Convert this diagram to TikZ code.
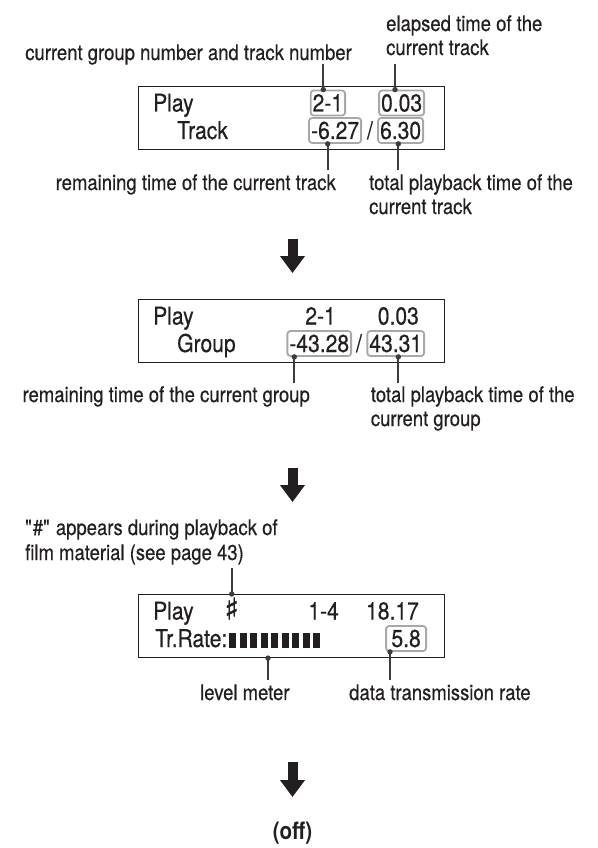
\documentclass[tikz,border=0pt]{standalone}
\usepackage{fontspec}
\setmainfont{TeX Gyre Heros}[FakeStretch=0.86, UprightFeatures={FakeBold=0.45}]
\newfontfamily\sharpfont{DejaVu Sans}[FakeBold=1.5]
\usetikzlibrary{arrows.meta,calc}

\newcommand\lblfont{\fontsize{21.5}{24}\selectfont}
\newcommand\lcdfont{\fontsize{24.5}{27}\selectfont}
\definecolor{ink}{HTML}{231F20}
\definecolor{lead}{HTML}{3C3C3C}
\definecolor{frame}{HTML}{A8A8A8}

\tikzset{
  lcd/.style={draw=ink, line width=1.1pt, minimum width=306pt, minimum height=63pt,
    anchor=north west, inner sep=0pt},
  lcdtext/.style={font=\lcdfont, text=ink, inner sep=0pt, anchor=base west},
  val/.style={font=\lcdfont, text=ink, inner xsep=2pt, inner ysep=4pt,
    text height=17pt, text depth=0pt, anchor=base east},
  valbox/.style={val, draw=frame, line width=1.8pt, rounded corners=3pt},
  lbl/.style={font=\lblfont, text=ink, inner sep=0pt, anchor=base west},
  leader/.style={draw=lead, line width=1.8pt},
  stepdown/.style={draw=ink, line width=10pt, -{Triangle[width=24pt,length=17pt]}},
}

\begin{document}
\begin{tikzpicture}[x=1pt,y=-1pt]
\useasboundingbox (0,0) rectangle (597,848);

% track display
\node[lbl] (elap1) at (386,31) {elapsed time of the};
\node[lbl] (elap2) at (386,55) {current track};
\node[lbl, anchor=base east] (grpno) at (352,60) {current group number and track number};

\node[lcd] (lcd1) at (138.3,86) {};
\node[lcdtext] (play1) at (153,111.5) {Play};
\node[lcdtext] (track) at (177,139) {Track};
\node[valbox] (v21a) at (346,111.5) {2-1};
\node[valbox] (v003a) at (425,111.5) {0.03};
\node[valbox] (v627) at (362,139) {-6.27};
\node[lcdtext, anchor=base] (sl1) at (370,139) {/};
\node[valbox] (v630) at (424,139) {6.30};

\coordinate (e21) at (323.3,64);
\coordinate (e003) at (395,64);
\coordinate (e627) at (327.7,170);
\coordinate (e630) at (398.3,170);
\draw[leader] (e21) -- (e21 |- v21a.north);
\draw[leader] (e003) -- (e003 |- v003a.north);
\draw[leader] (e627) -- (e627 |- v627.south);
\draw[leader] (e630) -- (e630 |- v630.south);
\fill[lead] (e21 |- v21a.north) circle (2.7pt);
\fill[lead] (e003 |- v003a.north) circle (2.7pt);
\fill[lead] (e627 |- v627.south) circle (2.7pt);
\fill[lead] (e630 |- v630.south) circle (2.7pt);

\node[lbl, anchor=base east] (rem1) at (336,190) {remaining time of the current track};
\node[lbl] (tot1a) at (369,190) {total playback time of the};
\node[lbl] (tot1b) at (369,214) {current track};

\coordinate (s1a) at (292.5,239);
\coordinate (s1b) at (292.5,273);
\draw[stepdown] (s1a) -- (s1b);

% group display
\node[lcd] (lcd2) at (138.3,299) {};
\node[lcdtext] (play2) at (153,324.5) {Play};
\node[lcdtext] (group) at (177,352) {Group};
\node[val] (v21b) at (338,324.5) {2-1};
\node[val] (v003b) at (421,324.5) {0.03};
\node[valbox] (v4328) at (352,352) {-43.28};
\node[lcdtext, anchor=base] (sl2) at (359,352) {/};
\node[valbox] (v4331) at (425,352) {43.31};

\coordinate (e4328) at (294.3,383);
\coordinate (e4331) at (398.3,383);
\draw[leader] (e4328) -- (e4328 |- v4328.south);
\draw[leader] (e4331) -- (e4331 |- v4331.south);
\fill[lead] (e4328 |- v4328.south) circle (2.7pt);
\fill[lead] (e4331 |- v4331.south) circle (2.7pt);

\node[lbl, anchor=base east] (rem2) at (310,402) {remaining time of the current group};
\node[lbl] (tot2a) at (370.7,402) {total playback time of the};
\node[lbl] (tot2b) at (370.7,426) {current group};

\coordinate (s2a) at (292.5,468);
\coordinate (s2b) at (292.5,502);
\draw[stepdown] (s2a) -- (s2b);

% rate display
\node[lbl] (film1) at (25,535) {\textquotedbl\#\textquotedbl{} appears during playback of};
\node[lbl] (film2) at (25,560) {film material (see page 43)};

\node[lcd] (lcd3) at (138.3,594) {};
\node[lcdtext] (play3) at (153,619.5) {Play};
\node[lcdtext, anchor=base] (sharp) at (231.7,619.5) {\sharpfont\fontsize{30}{30}\selectfont ♯};
\node[val] (v14) at (341,619.5) {1-4};
\node[val] (v1817) at (421,619.5) {18.17};
\node[lcdtext] (rate) at (155,647) {Tr.Rate:};
\foreach \i in {0,...,8}
  \fill[ink] ({229.3+10.5*\i},633) rectangle +(7,15);
\node[valbox, minimum width=40pt] (v58) at (427,647) {5.8};

\coordinate (esh) at (231.7,568);
\coordinate (emeter) at (268,680);
\coordinate (e58) at (390,680);
\draw[leader] (esh) -- (esh |- lcd3.north);
\draw[leader] (emeter) -- (emeter |- lcd3.south);
\draw[leader] (e58) -- (e58 |- v58.south);
\fill[lead] (esh |- lcd3.north) circle (2.7pt);
\fill[lead] (emeter |- lcd3.south) circle (2.7pt);
\fill[lead] (e58 |- v58.south) circle (2.7pt);

\node[lbl] (meter) at (200,700) {level meter};
\node[lbl] (trans) at (349,700) {data transmission rate};

\coordinate (s3a) at (292.5,762);
\coordinate (s3b) at (292.5,797);
\draw[stepdown] (s3a) -- (s3b);

\node[lbl, anchor=base, font=\fontsize{24}{26}\selectfont\bfseries] (off) at (292.5,839) {(off)};
\end{tikzpicture}
\end{document}
